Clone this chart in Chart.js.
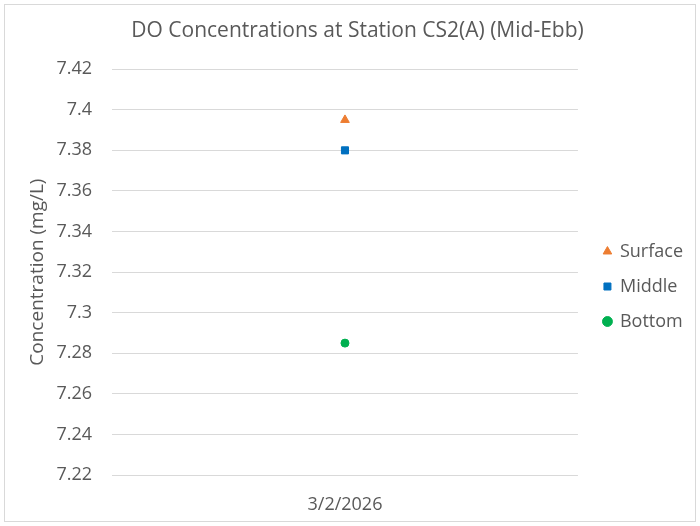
<!DOCTYPE html>
<html>
<head>
<meta charset="utf-8">
<script src="https://cdn.jsdelivr.net/npm/chart.js@4/dist/chart.umd.min.js"></script>
<style>
  html, body { margin: 0; padding: 0; background: #fff; }
  #wrap { width: 700px; height: 526px; position: relative; }
</style>
</head>
<body>
<div id="wrap"><canvas id="doChart" width="700" height="526"></canvas></div>
<script>
const categories = ["3/2/2026"];
const seriesNames = ["Surface", "Middle", "Bottom"];
const surface = [7.395];
const middle = [7.38];
const bottom = [7.285];
const yTicks = { min: 7.22, max: 7.42, step: 0.02 };

const textColor = "#595959";
const fontFamily = "'Open Sans', 'Noto Sans', sans-serif";

// light frame round the whole chart
const frame = {
    id: "frame",
    beforeDraw(chart) {
        const c = chart.ctx;
        c.save();
        c.fillStyle = "#fff";
        c.fillRect(0, 0, chart.width, chart.height);
        c.strokeStyle = "#d9d9d9";
        c.lineWidth = 1;
        c.strokeRect(4.5, 4.5, chart.width - 9, chart.height - 9);
        c.restore();
    }
};

const ctx = document.getElementById("doChart").getContext("2d");
const doChart = new Chart(ctx, {
    type: "line",
    data: {
        labels: categories,
        datasets: [
            { label: seriesNames[0], data: surface, pointStyle: "triangle", pointRadius: 5,
              backgroundColor: "#ED7D31", borderColor: "#ED7D31", showLine: false },
            { label: seriesNames[1], data: middle, pointStyle: "rect", pointRadius: 5,
              backgroundColor: "#0070C0", borderColor: "#0070C0", showLine: false },
            { label: seriesNames[2], data: bottom, pointStyle: "circle", pointRadius: 4,
              backgroundColor: "#00B050", borderColor: "#00B050", showLine: false }
        ]
    },
    options: {
        responsive: false,
        animation: false,
        layout: { padding: { left: 22, right: 7, top: 8, bottom: 12 } },
        plugins: {
            title: {
                display: true,
                text: "DO Concentrations at Station CS2(A) (Mid-Ebb)",
                color: textColor,
                font: { family: fontFamily, size: 21, weight: "normal" },
                padding: { top: 10, bottom: 26 }
            },
            legend: {
                position: "right",
                // blank title pushes the entries down a little
                title: { display: true, text: " ", font: { size: 51, lineHeight: 1 }, padding: 0 },
                labels: {
                    usePointStyle: true,
                    boxWidth: 7,
                    boxHeight: 7,
                    padding: 17,
                    color: textColor,
                    font: { family: fontFamily, size: 18 }
                }
            },
            tooltip: { enabled: false }
        },
        scales: {
            x: {
                type: "category",
                offset: true,
                grid: { display: false, drawTicks: false },
                border: { display: false },
                ticks: { color: textColor, font: { family: fontFamily, size: 18 }, padding: 19 },
                afterFit(s) { s.height = 39; }
            },
            y: {
                min: yTicks.min,
                max: yTicks.max,
                grid: { color: "#d9d9d9", drawTicks: false },
                border: { display: false },
                title: {
                    display: true,
                    text: "Concentration (mg/L)",
                    color: textColor,
                    font: { family: fontFamily, size: 19 }
                },
                ticks: {
                    stepSize: yTicks.step,
                    padding: 20,
                    color: textColor,
                    font: { family: fontFamily, size: 18 },
                    callback: v => String(Number(v.toFixed(2)))
                },
                afterFit(s) { s.width = 90; }
            },
            // empty spacer between plot and legend
            gap: {
                position: "right",
                grid: { display: false, drawTicks: false },
                border: { display: false },
                ticks: { display: false },
                afterFit(s) { s.width = 9; }
            }
        }
    },
    plugins: [frame]
});
</script>
</body>
</html>
